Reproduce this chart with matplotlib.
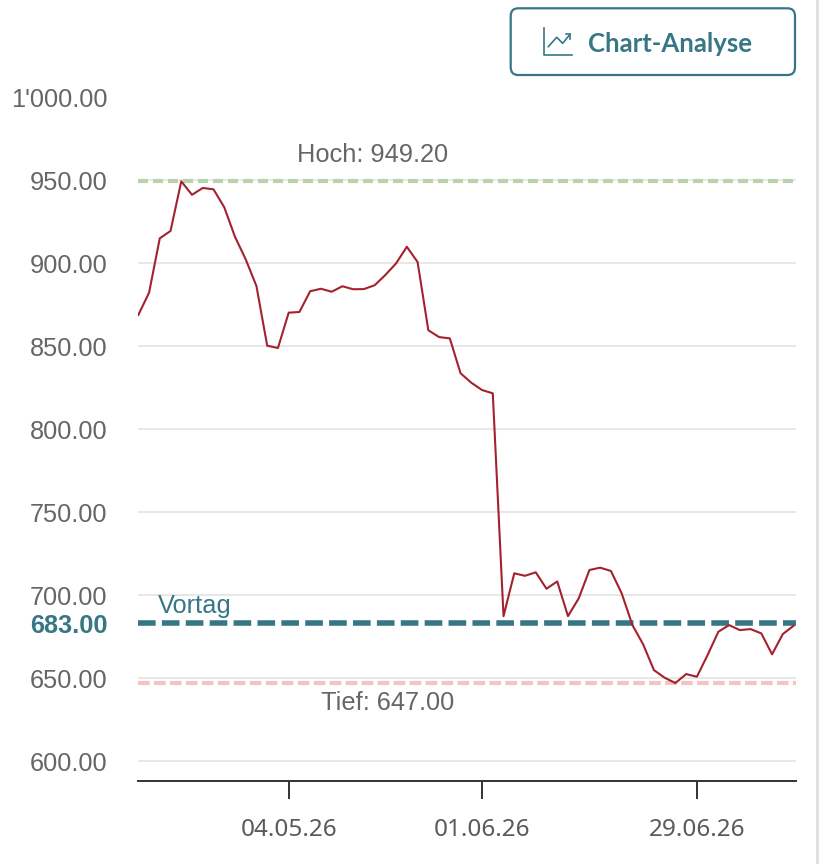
import matplotlib
matplotlib.use("Agg")
import matplotlib.pyplot as plt
from matplotlib.patches import FancyBboxPatch
from matplotlib.lines import Line2D

# closing prices per trading day
prices = [868.7, 882.1, 914.9, 919.3, 949.2, 941.1, 945.2, 944.4, 933.6, 915.8,
          902.2, 886.1, 850.2, 848.8, 870.1, 870.5, 883.0, 884.5, 882.7, 886.0,
          884.2, 884.3, 886.6, 892.8, 899.8, 909.8, 900.6, 859.5, 855.4, 854.6,
          833.6, 827.9, 823.5, 821.5, 687.3, 713.1, 711.6, 713.7, 703.8, 708.2,
          687.3, 698.0, 715.1, 716.5, 714.5, 701.0, 681.9, 670.3, 654.8, 650.2,
          647.0, 652.4, 650.8, 663.9, 677.9, 681.9, 678.9, 679.5, 676.9, 664.3,
          676.5, 681.5]

date_ticks = [14, 32, 52]
date_labels = ["04.05.26", "01.06.26", "29.06.26"]
y_ticks = [600, 650, 700, 750, 800, 850, 900, 950, 1000]

high = 949.20
low = 647.00
prev_close = 683.00

RED = "#a4212f"
TEAL = "#377785"
GRAY = "#666666"

plt.rcParams["lines.scale_dashes"] = False

W, H = 828, 864
fig = plt.figure(figsize=(W / 100, H / 100), dpi=100)
ax = fig.add_axes([138.3 / W, 1 - 781 / H, (795.7 - 138.3) / W, (781 - 97) / H])

x = list(range(len(prices)))

# grid
for v in y_ticks[:-1]:
    ax.axhline(v, color="#e3e3e3", lw=1.2, zorder=1)

# reference lines
ax.axhline(high, color="#b8d2ae", lw=3.0, dashes=(7.2, 3.6), zorder=2)
ax.axhline(low, color="#f7c2c2", lw=3.0, dashes=(8.4, 3.1), zorder=2)
ax.axhline(prev_close, color=TEAL, lw=4.0, dashes=(12.7, 4.5), zorder=2)

ax.plot(x, prices, color=RED, lw=1.5, zorder=3)

ax.text(21.8, 965, f"Hoch: {high:.2f}", ha="center", va="center",
        fontsize=18.3, color=GRAY, family="Liberation Sans")
ax.text(23.25, 635, f"Tief: {low:.2f}", ha="center", va="center",
        fontsize=18.3, color=GRAY, family="Liberation Sans")
ax.text(1.8, 693.5, "Vortag", ha="left", va="center",
        fontsize=18.3, color=TEAL, family="Liberation Sans")

ax.set_xlim(0, 61.2)
ax.set_ylim(588, 1000)

ax.set_yticks(y_ticks + [prev_close])
ylabels = [f"{v:,.2f}".replace(",", "'") for v in y_ticks] + [f"{prev_close:.2f}"]
ax.set_yticklabels(ylabels)
ax.tick_params(axis="y", length=0, pad=22, labelsize=18.3, labelcolor=GRAY)
for lab in ax.get_yticklabels():
    lab.set_family("Liberation Sans")
lab = ax.get_yticklabels()[-1]
lab.set_color(TEAL)
lab.set_fontweight("bold")

ax.set_xticks(date_ticks)
ax.set_xticklabels(date_labels)
ax.tick_params(axis="x", length=13, width=1.4, color="#333333", pad=14,
               labelsize=17.5, labelcolor="#5a5a5a")
for lab in ax.get_xticklabels():
    lab.set_family("Noto Sans")

for s in ["top", "right", "left"]:
    ax.spines[s].set_visible(False)
ax.spines["bottom"].set_color("#333333")
ax.spines["bottom"].set_linewidth(1.4)


def px(xp, yp):
    return xp / W, 1 - yp / H


# "Chart-Analyse" button
x0, y0 = px(510.7, 75)
x1, y1 = px(795, 8.3)
box = FancyBboxPatch((x0, y0), x1 - x0, y1 - y0,
                     boxstyle="round,pad=0,rounding_size=0.009",
                     transform=fig.transFigure, facecolor="white",
                     edgecolor=TEAL, lw=1.6)
fig.add_artist(box)

icon = [
    [(544.3, 28.3), (544.3, 55), (571.7, 55)],
    [(548.3, 46.7), (556.7, 37.3), (562.7, 43.3), (570, 34.3)],
    [(565.7, 34.3), (570, 34.3), (570, 38.7)],
]
for pts in icon:
    xs = [px(a, b)[0] for a, b in pts]
    ys = [px(a, b)[1] for a, b in pts]
    fig.add_artist(Line2D(xs, ys, transform=fig.transFigure, color=TEAL, lw=1.2))

tx, ty = px(588, 43.5)
fig.text(tx, ty, "Chart-Analyse", ha="left", va="center", fontsize=18.5,
         fontweight="bold", color=TEAL, family=["Lato", "Open Sans", "DejaVu Sans"])

# divider on the right edge
fig.add_artist(Line2D([816.7 / W, 816.7 / W], [0, 1], transform=fig.transFigure,
                      color="#dddddd", lw=2))

fig.savefig("out.png", dpi=100)
